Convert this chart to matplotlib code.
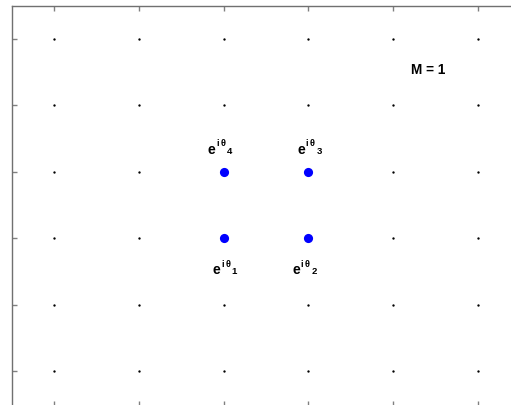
import matplotlib
matplotlib.use("Agg")
import matplotlib.pyplot as plt
import numpy as np

plt.rcParams["font.family"] = ["Liberation Sans", "DejaVu Sans"]

# Lattice of grid positions and the constellation points
grid_ticks = [-5, -3, -1, 1, 3, 5]
point_x = [-1, 1, 1, -1]
point_y = [-1, -1, 1, 1]
point_index = ["1", "2", "3", "4"]
title_text = "M = 1"

PX = 0.72  # points per pixel at 100 dpi

fig = plt.figure(figsize=(5.11, 4.06), dpi=100)
ax = fig.add_axes([11.6 / 511, -0.5 / 406, 508.8 / 511, 399.7 / 406])
ax.set_xlim(-6, 6)
ax.set_ylim(-6.04, 6)

gx, gy = np.meshgrid(grid_ticks, grid_ticks)
ax.plot(gx.ravel(), gy.ravel(), linestyle="none", marker="o",
        markersize=1.7, color="black", markeredgewidth=0)

ax.plot(point_x, point_y, linestyle="none", marker="o", markersize=6.6,
        color="#0000ff", markeredgewidth=0)


def phase_label(x, y, idx, dx, dy):
    """Write e^{i theta_idx} next to (x, y); dx, dy in pixels of the left/baseline."""
    pieces = [("e", 0.0, 0.0, 10.2),
              ("i", 8.6, 7.4, 6.6),
              ("\u03b8", 12.9, 7.4, 6.6),
              (idx, 19.4, 0.2, 6.8)]
    for txt, ox, oy, fs in pieces:
        ax.annotate(txt, xy=(x, y), xycoords="data",
                    xytext=((dx + ox) * PX, (dy + oy) * PX),
                    textcoords="offset points", ha="left", va="baseline",
                    fontsize=fs, fontweight="bold", color="black")


label_dx = [-11.2, -16.2, -11.2, -16.2]
for x, y, idx, dx in zip(point_x, point_y, point_index, label_dx):
    dy = 19.0 if y > 0 else -35.0
    phase_label(x, y, idx, dx, dy)

ax.text(3.83, 3.967, title_text, ha="center", va="baseline", fontsize=9.8,
        fontweight="bold")

ax.set_xticks(grid_ticks)
ax.set_yticks(grid_ticks)
ax.set_xticklabels([])
ax.set_yticklabels([])
ax.tick_params(direction="in", length=3.8, width=1, color="#808080",
               top=True, right=True)
for s in ax.spines.values():
    s.set_color("#707070")
    s.set_linewidth(1)

fig.savefig("out.png", dpi=100)
